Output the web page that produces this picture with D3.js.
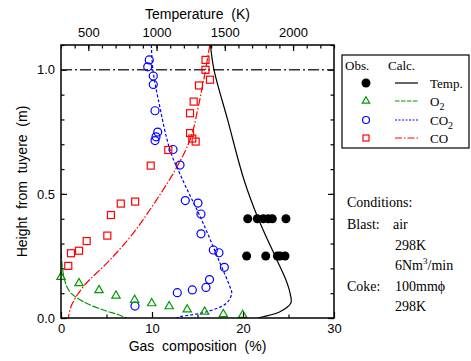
<!DOCTYPE html>
<html>
<head>
<meta charset="utf-8">
<script src="https://cdn.jsdelivr.net/npm/d3@7"></script>
<style>
  body { margin: 0; background: #fff; }
  svg { display: block; }
</style>
</head>
<body>
<script>
// observed temperature (K) vs height (m)
var tempObsH = [0.4, 0.4, 0.4, 0.4, 0.4, 0.4, 0.25, 0.25, 0.25, 0.25, 0.25]
var tempObsT = [1668, 1738, 1782, 1819, 1848, 1948, 1660, 1800, 1885, 1904, 1941]

// observed O2 (%)
var o2ObsX = [0.0, 1.98, 4.18, 6.04, 8.09, 9.97, 11.89, 13.87, 15.79, 17.84, 19.97]
var o2ObsH = [0.165, 0.140, 0.112, 0.090, 0.073, 0.059, 0.047, 0.034, 0.025, 0.015, 0.012]

// observed CO2 (%)
var co2ObsX = [9.70, 9.53, 10.14, 10.14, 10.33, 10.63, 10.44, 10.33, 12.31, 13.08, 13.66,
  15.05, 15.38, 15.38, 16.74, 17.36, 17.95, 16.32, 15.93, 14.43, 12.78, 8.13]
var co2ObsH = [1.040, 1.012, 0.975, 0.941, 0.835, 0.749, 0.730, 0.715, 0.679, 0.616, 0.473,
  0.463, 0.419, 0.339, 0.274, 0.263, 0.204, 0.155, 0.123, 0.113, 0.102, 0.048]

// observed CO (%)
var coObsX = [15.88, 15.88, 16.37, 15.16, 14.58, 14.18, 14.18, 14.43, 14.80, 11.79, 9.86,
  8.15, 6.57, 5.49, 5.09, 2.82, 1.98, 1.10, 0.80]
var coObsH = [1.040, 1.000, 0.960, 0.937, 0.872, 0.825, 0.745, 0.723, 0.711, 0.677, 0.614,
  0.469, 0.461, 0.415, 0.332, 0.310, 0.271, 0.261, 0.210]

// calculated profiles
var tempCalcH = [1.1, 1.0, 0.8, 0.556, 0.403, 0.25, 0.153, 0.10, 0.06, 0.025, 0.005, 0]
var tempCalcT = [1395, 1421, 1520, 1641, 1743, 1868, 1948, 1978, 1984, 1904, 1782, 1745]

var o2CalcH = [0.30, 0.22, 0.17, 0.13, 0.10, 0.066, 0.032, 0.012, 0]
var o2CalcX = [0.0, 0.1, 0.3, 0.6, 1.1, 2.45, 4.65, 6.4, 7.2]

var co2CalcH = [1.1, 1.0, 0.879, 0.677, 0.565, 0.395, 0.222, 0.125, 0.10, 0.06, 0.025, 0.005, 0]
var co2CalcX = [9.93, 10.1, 10.7, 11.98, 13.26, 15.46, 17.47, 18.57, 18.76, 18.2, 16.0, 13.08, 12.7]

var coCalcH = [1.1, 0.987, 0.852, 0.718, 0.583, 0.476, 0.395, 0.342, 0.234, 0.126, 0.052, 0]
var coCalcX = [16.35, 15.82, 15.09, 14.18, 12.34, 10.5, 9.0, 7.95, 5.38, 2.45, 1.17, 0.8]

// axis ticks
var xMajor = [0, 10, 20, 30]
var xMinor = [5, 15, 25]
var tMajor = [500, 1000, 1500, 2000]
var tMinor = d3.range(300, 2301, 100)
var yMajor = [0, 0.5, 1.0]
var yMinor = d3.range(0, 1.101, 0.1)

var conditions = [["Blast:", "air"], ["", "298K"], ["", "6Nm|3|/min"], ["Coke:", "100mm\u03d5"], ["", "298K"]]

var red = "#ff0000", blue = "#0000ff", green = "#009900"
var sans = "'Liberation Sans', Arial, sans-serif"
var serif = "'Liberation Serif', 'Times New Roman', serif"

var w = 471, h = 361
// plot frame (don't call these top/left, window.top is taken)
var pL = 61, pR = 334, pT = 45, pB = 318

var svg = d3.select("body").append("svg")
  .attr("width", w)
  .attr("height", h)

var x = d3.scaleLinear().domain([0, 30]).range([pL, pR])
var xT = d3.scaleLinear().domain([300, 2300]).range([pL, pR])
var y = d3.scaleLinear().domain([0, 1.1]).range([pB, pT])

function styleAxis(g) {
  g.select(".domain").remove()
  g.selectAll("line").attr("stroke", "#000").attr("stroke-width", 1.2)
  g.selectAll("text").style("font-family", sans).style("font-size", "13px").attr("fill", "#000")
}

// bottom axis
svg.append("g").attr("transform", "translate(0," + pB + ")")
  .call(d3.axisBottom(x).tickValues(xMajor).tickSize(-6).tickPadding(6).tickFormat(d3.format("d")))
  .call(styleAxis)
svg.append("g").attr("transform", "translate(0," + pB + ")")
  .call(d3.axisBottom(x).tickValues(xMinor).tickSize(-3.5).tickFormat(""))
  .call(styleAxis)

// top axis (temperature)
svg.append("g").attr("transform", "translate(0," + pT + ")")
  .call(d3.axisTop(xT).tickValues(tMajor).tickSize(-6).tickPadding(8).tickFormat(d3.format("d")))
  .call(styleAxis)
svg.append("g").attr("transform", "translate(0," + pT + ")")
  .call(d3.axisTop(xT).tickValues(tMinor).tickSize(-3.5).tickFormat(""))
  .call(styleAxis)

// left axis
svg.append("g").attr("transform", "translate(" + pL + ",0)")
  .call(d3.axisLeft(y).tickValues(yMajor).tickSize(-6).tickPadding(6).tickFormat(d3.format(".1f")))
  .call(styleAxis)
svg.append("g").attr("transform", "translate(" + pL + ",0)")
  .call(d3.axisLeft(y).tickValues(yMinor).tickSize(-3.5).tickFormat(""))
  .call(styleAxis)

// right axis
svg.append("g").attr("transform", "translate(" + pR + ",0)")
  .call(d3.axisRight(y).tickValues(yMajor).tickSize(-6).tickFormat(""))
  .call(styleAxis)
svg.append("g").attr("transform", "translate(" + pR + ",0)")
  .call(d3.axisRight(y).tickValues(yMinor).tickSize(-3.5).tickFormat(""))
  .call(styleAxis)

// clip for the curves
svg.append("clipPath").attr("id", "plot")
  .append("rect").attr("x", pL).attr("y", pT).attr("width", pR - pL).attr("height", pB - pT)

var plot = svg.append("g").attr("clip-path", "url(#plot)")

// tuyere reference line at 1.0 m
plot.append("line")
  .attr("x1", pL).attr("x2", pR)
  .attr("y1", y(1.0)).attr("y2", y(1.0))
  .attr("stroke", "#333").attr("stroke-width", 1.5)
  .attr("stroke-dasharray", "11,3,2,3")

function curve(xs, hs, sc, color, dash, width) {
  var pts = xs.map(function(d, i) { return [sc(d), y(hs[i])] })
  plot.append("path")
    .attr("d", d3.line().curve(d3.curveCatmullRom)(pts))
    .attr("fill", "none")
    .attr("stroke", color)
    .attr("stroke-width", width)
    .attr("stroke-dasharray", dash)
}

curve(tempCalcT, tempCalcH, xT, "#000", null, 1.2)
curve(o2CalcX, o2CalcH, x, green, "7,1.5", 1.2)
curve(co2CalcX, co2CalcH, x, blue, "3,2", 1.2)
curve(coCalcX, coCalcH, x, red, "8,2,1.5,2", 1.2)

// observed points
var marks = svg.append("g")

marks.selectAll(".co2").data(co2ObsX).enter().append("circle")
  .attr("cx", function(d) { return x(d) })
  .attr("cy", function(d, i) { return y(co2ObsH[i]) })
  .attr("r", 4)
  .attr("fill", "none").attr("stroke", blue).attr("stroke-width", 1.2)

marks.selectAll(".co").data(coObsX).enter().append("rect")
  .attr("x", function(d) { return x(d) - 3.5 })
  .attr("y", function(d, i) { return y(coObsH[i]) - 3.5 })
  .attr("width", 7).attr("height", 7)
  .attr("fill", "none").attr("stroke", red).attr("stroke-width", 1.2)

var tri = d3.symbol().type(d3.symbolTriangle).size(30)
marks.selectAll(".o2").data(o2ObsX).enter().append("path")
  .attr("d", tri)
  .attr("transform", function(d, i) { return "translate(" + x(d) + "," + y(o2ObsH[i]) + ")" })
  .attr("fill", "none").attr("stroke", green).attr("stroke-width", 1.2)

marks.selectAll(".temp").data(tempObsT).enter().append("circle")
  .attr("cx", function(d) { return xT(d) })
  .attr("cy", function(d, i) { return y(tempObsH[i]) })
  .attr("r", 4.5)
  .attr("fill", "#000")

// frame
svg.append("rect")
  .attr("x", pL).attr("y", pT)
  .attr("width", pR - pL).attr("height", pB - pT)
  .attr("fill", "none").attr("stroke", "#000").attr("stroke-width", 1.5)

// axis titles
svg.append("text")
  .attr("x", (pL + pR) / 2).attr("y", 19)
  .attr("text-anchor", "middle")
  .style("font-family", sans).style("font-size", "14px")
  .attr("xml:space", "preserve")
  .text("Temperature  (K)")

svg.append("text")
  .attr("x", (pL + pR) / 2).attr("y", 351)
  .attr("text-anchor", "middle")
  .style("font-family", sans).style("font-size", "14px")
  .attr("xml:space", "preserve")
  .text("Gas  composition  (%)")

svg.append("text")
  .attr("transform", "translate(27," + ((pT + pB) / 2) + ") rotate(-90)")
  .attr("text-anchor", "middle")
  .style("font-family", sans).style("font-size", "14px")
  .attr("xml:space", "preserve")
  .text("Height  from  tuyere  (m)")

// legend
var lg = svg.append("g").style("font-family", serif).style("font-size", "13px")
lg.append("rect")
  .attr("x", 342).attr("y", 55).attr("width", 127).attr("height", 93)
  .attr("fill", "none").attr("stroke", "#000").attr("stroke-width", 1.2)
lg.append("text").attr("x", 345).attr("y", 70).text("Obs.")
lg.append("text").attr("x", 388).attr("y", 70).text("Calc.")

var rows = [
  {name: "Temp.", color: "#000", dash: null, sub: null},
  {name: "O", color: green, dash: "4.5,1.5", sub: "2"},
  {name: "CO", color: blue, dash: "2,1.5", sub: "2"},
  {name: "CO", color: red, dash: "7,2,1.5,2", sub: null}
]
var rowY = [83, 101, 120, 138]
rows.forEach(function(r, i) {
  var cy = rowY[i]
  if (i == 0) {
    lg.append("circle").attr("cx", 366).attr("cy", cy).attr("r", 4.5).attr("fill", "#000")
  } else if (i == 1) {
    lg.append("path").attr("d", d3.symbol().type(d3.symbolTriangle).size(24))
      .attr("transform", "translate(366," + cy + ")")
      .attr("fill", "none").attr("stroke", green).attr("stroke-width", 1.2)
  } else if (i == 2) {
    lg.append("circle").attr("cx", 366).attr("cy", cy).attr("r", 3.5)
      .attr("fill", "none").attr("stroke", blue).attr("stroke-width", 1.2)
  } else {
    lg.append("rect").attr("x", 363).attr("y", cy - 3).attr("width", 6).attr("height", 6)
      .attr("fill", "none").attr("stroke", red).attr("stroke-width", 1.2)
  }
  lg.append("line").attr("x1", 395).attr("x2", 418).attr("y1", cy).attr("y2", cy)
    .attr("stroke", r.color).attr("stroke-width", 1.2).attr("stroke-dasharray", r.dash)
  var t = lg.append("text").attr("x", 430).attr("y", cy + 5).text(r.name)
  if (r.sub) t.append("tspan").attr("dy", 4).style("font-size", "10px").text(r.sub)
})

// conditions
var cond = svg.append("g").style("font-family", serif).style("font-size", "14px")
cond.append("text").attr("x", 347).attr("y", 207).text("Conditions:")
conditions.forEach(function(c, i) {
  var yy = 229 + i * 20.5
  if (c[0]) cond.append("text").attr("x", 347).attr("y", yy).text(c[0])
  var parts = c[1].split("|")
  var t = cond.append("text").attr("x", c[0] == "Blast:" ? 393 : 395).attr("y", yy)
  t.append("tspan").text(parts[0])
  if (parts.length > 1) {
    t.append("tspan").attr("dy", -6).style("font-size", "9px").text(parts[1])
    t.append("tspan").attr("dy", 6).text(parts[2])
  }
})
</script>
</body>
</html>
